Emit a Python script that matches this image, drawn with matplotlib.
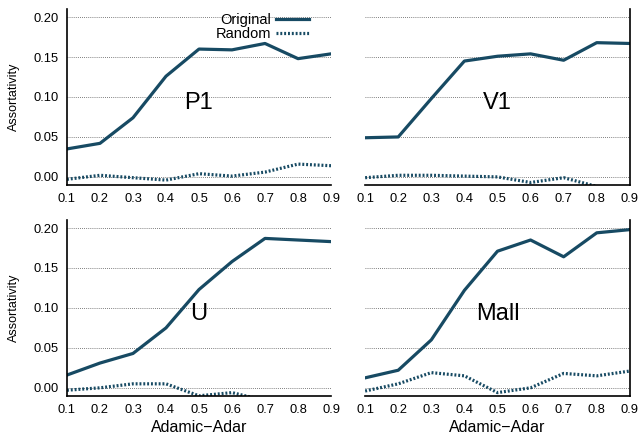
import matplotlib.pyplot as plt

plt.rcParams['font.family'] = ['Liberation Sans', 'DejaVu Sans']

x = [0.1, 0.2, 0.3, 0.4, 0.5, 0.6, 0.7, 0.8, 0.9]
names = ['P1', 'V1', 'U', 'Mall']

p1_orig = [0.035, 0.042, 0.074, 0.126, 0.160, 0.159, 0.167, 0.148, 0.154]
p1_rand = [-0.003, 0.002, -0.001, -0.004, 0.004, 0.001, 0.006, 0.016, 0.014]
v1_orig = [0.049, 0.050, 0.098, 0.145, 0.151, 0.154, 0.146, 0.168, 0.167]
v1_rand = [-0.001, 0.002, 0.002, 0.001, 0.000, -0.007, -0.001, -0.012, -0.020]
u_orig = [0.016, 0.031, 0.043, 0.075, 0.123, 0.158, 0.187, 0.185, 0.183]
u_rand = [-0.003, 0.000, 0.005, 0.005, -0.010, -0.006, -0.016, -0.020, -0.020]
mall_orig = [0.0125, 0.022, 0.060, 0.122, 0.171, 0.185, 0.164, 0.194, 0.198]
mall_rand = [-0.004, 0.005, 0.019, 0.015, -0.006, 0.000, 0.018, 0.015, 0.021]

originals = [p1_orig, v1_orig, u_orig, mall_orig]
randoms = [p1_rand, v1_rand, u_rand, mall_rand]

color = '#174a63'
fig = plt.figure(figsize=(6.44, 4.34), dpi=100)
boxes = [
    [0.104, 0.574, 0.410, 0.405],
    [0.567, 0.574, 0.411, 0.405],
    [0.104, 0.088, 0.410, 0.405],
    [0.567, 0.088, 0.411, 0.405],
]

for i, name in enumerate(names):
    ax = fig.add_axes(boxes[i])
    ax.plot(x, originals[i], color=color, lw=2.3, label='Original')
    ax.plot(x, randoms[i], color=color, lw=2.3, ls=(0, (0.6, 0.6)), label='Random')
    ax.set_xlim(0.1, 0.9)
    ax.set_ylim(-0.01, 0.21)
    ax.set_xticks(x)
    ax.set_xticklabels([f'{v:.1f}' for v in x])
    ax.set_yticks([0, 0.05, 0.10, 0.15, 0.20])
    ax.set_yticklabels(['0.00', '0.05', '0.10', '0.15', '0.20'])
    ax.tick_params(length=0, labelsize=9.3, pad=6)
    ax.yaxis.grid(True, ls=(0, (1, 1.5)), color='#555555', lw=0.6)
    ax.set_axisbelow(True)
    ax.spines['top'].set_visible(False)
    if i % 2 == 0:
        ax.spines['right'].set_visible(False)
        ax.set_ylabel('Assortativity', fontsize=9, labelpad=10)
    else:
        ax.spines['left'].set_visible(False)
        ax.set_yticklabels([])
    for s in ax.spines.values():
        s.set_linewidth(1.2)
    if i >= 2:
        ax.set_xlabel('Adamic\u2212Adar', fontsize=11.5, labelpad=3)
    ax.text(0.5, 0.0925, name, fontsize=17, ha='center', va='center')
    if i == 0:
        ax.legend(loc='upper right', bbox_to_anchor=(0.945, 1.02), frameon=False,
                  markerfirst=False, handlelength=2.3, handletextpad=0.3,
                  labelspacing=0, borderpad=0, fontsize=10.5)

fig.savefig('out.png', dpi=100)
